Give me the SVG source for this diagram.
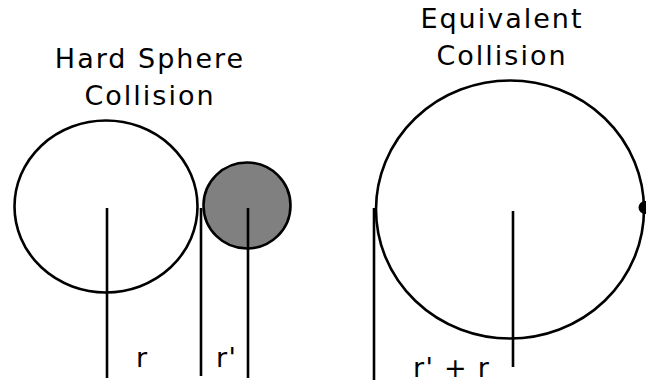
<svg xmlns="http://www.w3.org/2000/svg" width="646" height="383" viewBox="0 0 646 383">
<style>
text{font-family:"DejaVu Sans",Verdana,sans-serif;font-size:27px;fill:#000;letter-spacing:2px}
.t{text-anchor:middle}
.l{letter-spacing:1.3px}
.s{fill:none;stroke:#000;stroke-width:2.6}
line{stroke:#000;stroke-width:2.6}
</style>
<rect width="646" height="383" fill="#fff"/>
<g id="title-left">
<text class="t" x="150" y="68">Hard Sphere</text>
<text class="t" x="150" y="105">Collision</text>
</g>
<g id="title-right">
<text class="t" x="502" y="28">Equivalent</text>
<text class="t" x="502" y="65">Collision</text>
</g>
<g id="sphere-large">
<ellipse class="s" cx="106" cy="206.5" rx="91.5" ry="86"/>
</g>
<g id="sphere-small">
<ellipse cx="247" cy="205.5" rx="43.5" ry="43" fill="#808080" stroke="#000" stroke-width="2.6"/>
</g>
<g id="sphere-equivalent">
<ellipse class="s" cx="510" cy="209.5" rx="134" ry="129"/>
</g>
<g id="point">
<circle cx="645" cy="207.5" r="6.5" fill="#000"/>
</g>
<g id="connectors">
<line x1="107" y1="208" x2="107" y2="378"/>
<line x1="201" y1="208" x2="201" y2="376"/>
<line x1="248" y1="208" x2="248" y2="378"/>
<line x1="374" y1="208" x2="374" y2="380"/>
<line x1="513" y1="211" x2="513" y2="367"/>
</g>
<g id="labels">
<text class="l" x="136" y="367">r</text>
<text class="l" x="216" y="367">r'</text>
<text class="l" x="413" y="377">r' + r</text>
</g>
</svg>
